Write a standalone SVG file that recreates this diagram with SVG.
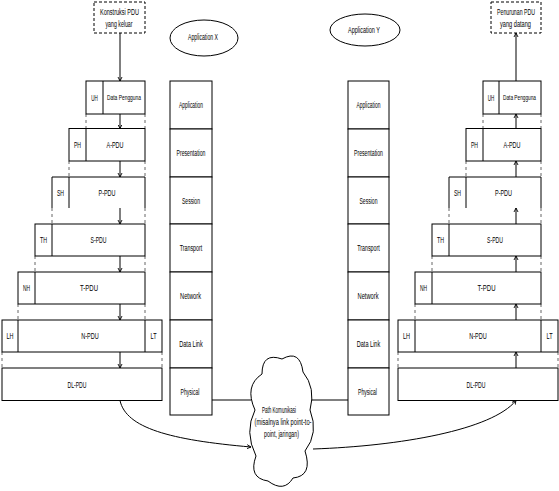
<svg xmlns="http://www.w3.org/2000/svg" width="559" height="491" viewBox="0 0 559 491">
<style>
.bg{fill:#fff}
.box{fill:#fff;stroke:#000;stroke-width:1}
.dbox{fill:#fff;stroke:#000;stroke-width:1;stroke-dasharray:3,2}
.ln{fill:none;stroke:#000;stroke-width:1}
.gap{fill:none;stroke:#666;stroke-width:1;stroke-dasharray:3,3}
.con{fill:none;stroke:#000;stroke-width:1}
.t{font-family:"Liberation Sans",Arial,sans-serif;font-size:8.5px;fill:#000;text-anchor:middle;dominant-baseline:central}
.s{font-size:8px}
</style>
<defs>
<marker id="ah" markerUnits="userSpaceOnUse" markerWidth="6" markerHeight="6" refX="4" refY="3" orient="auto">
<path d="M0,1 L4,3 L0,5" fill="none" stroke="#000" stroke-width="0.9"/>
</marker>
</defs>
<rect class="bg" x="0" y="0" width="559" height="491"/>

<g id="guides">
<path class="gap" d="M86,114V128M145,114V128M69,161V177M145,161V177M52,208V224M145,208V224M35,256V272M145,256V272M18,304V320M145,304V320M2,352V368M162,352V368"/>
<path class="gap" d="M483,114V128M541,114V128M466,161V177M541,161V177M449,208V224M541,208V224M432,256V272M541,256V272M415,304V320M541,304V320M398,352V368M558,352V368"/>
</g>

<g id="konstruksi">
<rect class="dbox" x="94" y="2" width="51" height="31"/>
<text class="t" x="119.5" y="12" textLength="39" lengthAdjust="spacingAndGlyphs">Konstruksi PDU</text>
<text class="t" x="119" y="24" textLength="27" lengthAdjust="spacingAndGlyphs">yang keluar</text>
</g>
<g id="penurunan">
<rect class="dbox" x="491" y="2" width="50" height="31"/>
<text class="t" x="516" y="12" textLength="38" lengthAdjust="spacingAndGlyphs">Penurunan PDU</text>
<text class="t" x="515.5" y="24" textLength="31" lengthAdjust="spacingAndGlyphs">yang datang</text>
</g>

<g id="appX">
<ellipse class="box" cx="204" cy="38" rx="34" ry="18"/>
<text class="t" x="203" y="37" textLength="30" lengthAdjust="spacingAndGlyphs">Application X</text>
</g>
<g id="appY">
<ellipse class="box" cx="365" cy="30" rx="35" ry="16"/>
<text class="t" x="364" y="30" textLength="32" lengthAdjust="spacingAndGlyphs">Application Y</text>
</g>

<!-- Left PDU stack -->
<g id="L-data">
<rect class="box" x="86" y="81" width="59" height="33"/>
<line class="ln" x1="103" y1="81" x2="103" y2="114"/>
<text class="t" x="94.5" y="97.5" textLength="6.5" lengthAdjust="spacingAndGlyphs">UH</text>
<text class="t s" x="124" y="97.5" textLength="34" lengthAdjust="spacingAndGlyphs">Data Pengguna</text>
</g>
<g id="L-apdu">
<rect class="box" x="69" y="128.5" width="76" height="32.5"/>
<line class="ln" x1="86" y1="128.5" x2="86" y2="161"/>
<text class="t" x="77.5" y="144.5" textLength="7" lengthAdjust="spacingAndGlyphs">PH</text>
<text class="t" x="115" y="144.5" textLength="17" lengthAdjust="spacingAndGlyphs">A-PDU</text>
</g>
<g id="L-ppdu">
<path class="ln" d="M52,208V177H145V208M69,177V208"/>
<text class="t" x="60.5" y="192.5" textLength="7" lengthAdjust="spacingAndGlyphs">SH</text>
<text class="t" x="107" y="192.5" textLength="17" lengthAdjust="spacingAndGlyphs">P-PDU</text>
</g>
<g id="L-spdu">
<rect class="box" x="35" y="224" width="110" height="32"/>
<line class="ln" x1="52" y1="224" x2="52" y2="256"/>
<text class="t" x="43.5" y="240" textLength="7" lengthAdjust="spacingAndGlyphs">TH</text>
<text class="t" x="98.5" y="240" textLength="16" lengthAdjust="spacingAndGlyphs">S-PDU</text>
</g>
<g id="L-tpdu">
<rect class="box" x="18" y="272" width="127" height="32"/>
<line class="ln" x1="35" y1="272" x2="35" y2="304"/>
<text class="t" x="26.5" y="288" textLength="7" lengthAdjust="spacingAndGlyphs">NH</text>
<text class="t" x="89" y="288" textLength="18" lengthAdjust="spacingAndGlyphs">T-PDU</text>
</g>
<g id="L-npdu">
<rect class="box" x="2" y="320" width="160" height="32"/>
<line class="ln" x1="18" y1="320" x2="18" y2="352"/>
<line class="ln" x1="145" y1="320" x2="145" y2="352"/>
<text class="t" x="10" y="336" textLength="7" lengthAdjust="spacingAndGlyphs">LH</text>
<text class="t" x="90" y="336" textLength="17.5" lengthAdjust="spacingAndGlyphs">N-PDU</text>
<text class="t" x="153.5" y="336" textLength="6" lengthAdjust="spacingAndGlyphs">LT</text>
</g>
<g id="L-dlpdu">
<rect class="box" x="2" y="368" width="160" height="32.5"/>
<text class="t" x="77" y="384.5" textLength="19" lengthAdjust="spacingAndGlyphs">DL-PDU</text>
</g>

<!-- Left layer stack -->
<g id="L-layers">
<rect class="box" x="170" y="81" width="42" height="48"/>
<rect class="box" x="170" y="129" width="42" height="48"/>
<rect class="box" x="170" y="177" width="42" height="47"/>
<rect class="box" x="170" y="224" width="42" height="48"/>
<rect class="box" x="170" y="272" width="42" height="48"/>
<rect class="box" x="170" y="320" width="42" height="48"/>
<rect class="box" x="170" y="368" width="42" height="47"/>
<text class="t" x="191" y="105" textLength="24" lengthAdjust="spacingAndGlyphs">Application</text>
<text class="t" x="191" y="153" textLength="29" lengthAdjust="spacingAndGlyphs">Presentation</text>
<text class="t" x="191" y="200.5" textLength="18" lengthAdjust="spacingAndGlyphs">Session</text>
<text class="t" x="191" y="248" textLength="22.5" lengthAdjust="spacingAndGlyphs">Transport</text>
<text class="t" x="190.5" y="296" textLength="21" lengthAdjust="spacingAndGlyphs">Network</text>
<text class="t" x="191" y="344" textLength="23.5" lengthAdjust="spacingAndGlyphs">Data Link</text>
<text class="t" x="190" y="392" textLength="19" lengthAdjust="spacingAndGlyphs">Physical</text>
</g>

<!-- Right layer stack -->
<g id="R-layers">
<rect class="box" x="348" y="81" width="41" height="48"/>
<rect class="box" x="348" y="129" width="41" height="48"/>
<rect class="box" x="348" y="177" width="41" height="47"/>
<rect class="box" x="348" y="224" width="41" height="48"/>
<rect class="box" x="348" y="272" width="41" height="48"/>
<rect class="box" x="348" y="320" width="41" height="48"/>
<rect class="box" x="348" y="368" width="41" height="47"/>
<text class="t" x="368.5" y="105" textLength="24" lengthAdjust="spacingAndGlyphs">Application</text>
<text class="t" x="368.5" y="153" textLength="29" lengthAdjust="spacingAndGlyphs">Presentation</text>
<text class="t" x="368.5" y="200.5" textLength="18" lengthAdjust="spacingAndGlyphs">Session</text>
<text class="t" x="368.5" y="248" textLength="22.5" lengthAdjust="spacingAndGlyphs">Transport</text>
<text class="t" x="368" y="296" textLength="21" lengthAdjust="spacingAndGlyphs">Network</text>
<text class="t" x="368.5" y="344" textLength="23.5" lengthAdjust="spacingAndGlyphs">Data Link</text>
<text class="t" x="367.5" y="392" textLength="19" lengthAdjust="spacingAndGlyphs">Physical</text>
</g>

<!-- Right PDU stack -->
<g id="R-data">
<rect class="box" x="483" y="81" width="58" height="33"/>
<line class="ln" x1="499" y1="81" x2="499" y2="114"/>
<text class="t" x="491" y="97.5" textLength="6.5" lengthAdjust="spacingAndGlyphs">UH</text>
<text class="t s" x="519.5" y="97.5" textLength="33" lengthAdjust="spacingAndGlyphs">Data Pengguna</text>
</g>
<g id="R-apdu">
<rect class="box" x="466" y="128.5" width="75" height="32.5"/>
<line class="ln" x1="483" y1="128.5" x2="483" y2="161"/>
<text class="t" x="474.5" y="144.5" textLength="7" lengthAdjust="spacingAndGlyphs">PH</text>
<text class="t" x="512" y="144.5" textLength="17" lengthAdjust="spacingAndGlyphs">A-PDU</text>
</g>
<g id="R-ppdu">
<path class="ln" d="M449,208V177H541V208M466,177V208"/>
<text class="t" x="457.5" y="192.5" textLength="7" lengthAdjust="spacingAndGlyphs">SH</text>
<text class="t" x="503.5" y="192.5" textLength="17" lengthAdjust="spacingAndGlyphs">P-PDU</text>
</g>
<g id="R-spdu">
<rect class="box" x="432" y="224" width="109" height="32"/>
<line class="ln" x1="449" y1="224" x2="449" y2="256"/>
<text class="t" x="440.5" y="240" textLength="7" lengthAdjust="spacingAndGlyphs">TH</text>
<text class="t" x="495" y="240" textLength="16" lengthAdjust="spacingAndGlyphs">S-PDU</text>
</g>
<g id="R-tpdu">
<rect class="box" x="415" y="272" width="126" height="32"/>
<line class="ln" x1="432" y1="272" x2="432" y2="304"/>
<text class="t" x="423.5" y="288" textLength="7" lengthAdjust="spacingAndGlyphs">NH</text>
<text class="t" x="486.5" y="288" textLength="18" lengthAdjust="spacingAndGlyphs">T-PDU</text>
</g>
<g id="R-npdu">
<rect class="box" x="398" y="320" width="160" height="32"/>
<line class="ln" x1="415" y1="320" x2="415" y2="352"/>
<line class="ln" x1="541" y1="320" x2="541" y2="352"/>
<text class="t" x="406.5" y="336" textLength="7" lengthAdjust="spacingAndGlyphs">LH</text>
<text class="t" x="478" y="336" textLength="17.5" lengthAdjust="spacingAndGlyphs">N-PDU</text>
<text class="t" x="549.5" y="336" textLength="6" lengthAdjust="spacingAndGlyphs">LT</text>
</g>
<g id="R-dlpdu">
<rect class="box" x="398" y="368" width="160" height="32.5"/>
<text class="t" x="476" y="384.5" textLength="19" lengthAdjust="spacingAndGlyphs">DL-PDU</text>
</g>

<g id="cloud">
<path class="box" d="M262,374 Q262,352 282,359 Q300,349 303,372 Q316,388 310,410 Q319,433 305,451 Q313,476 293,478 Q284,493 268,481 Q248,478 256,456 Q244,432 255,410 Q244,386 262,374 Z"/>
<text class="t" x="279" y="410" textLength="34" lengthAdjust="spacingAndGlyphs">Path Komunikasi</text>
<text class="t" x="283" y="421.5" textLength="57" lengthAdjust="spacingAndGlyphs">(misalnya link point-to-</text>
<text class="t" x="281.5" y="434" textLength="35" lengthAdjust="spacingAndGlyphs">point, jaringan)</text>
</g>

<g id="connectors">
<line class="con" x1="120" y1="33" x2="120" y2="81" marker-end="url(#ah)"/>
<line class="con" x1="120" y1="114" x2="120" y2="128.5" marker-end="url(#ah)"/>
<line class="con" x1="120" y1="161" x2="120" y2="177" marker-end="url(#ah)"/>
<line class="con" x1="120" y1="208" x2="120" y2="224" marker-end="url(#ah)"/>
<line class="con" x1="120" y1="256" x2="120" y2="272" marker-end="url(#ah)"/>
<line class="con" x1="120" y1="304" x2="120" y2="320" marker-end="url(#ah)"/>
<line class="con" x1="120" y1="352" x2="120" y2="368" marker-end="url(#ah)"/>
<line class="con" x1="516" y1="81" x2="516" y2="33" marker-end="url(#ah)"/>
<line class="con" x1="516" y1="128.5" x2="516" y2="114" marker-end="url(#ah)"/>
<line class="con" x1="516" y1="177" x2="516" y2="161" marker-end="url(#ah)"/>
<line class="con" x1="516" y1="224" x2="516" y2="208" marker-end="url(#ah)"/>
<line class="con" x1="516" y1="272" x2="516" y2="256" marker-end="url(#ah)"/>
<line class="con" x1="516" y1="320" x2="516" y2="304" marker-end="url(#ah)"/>
<line class="con" x1="516" y1="368" x2="516" y2="352" marker-end="url(#ah)"/>
<line class="con" x1="212" y1="400" x2="251" y2="400"/>
<line class="con" x1="311" y1="400" x2="348" y2="400"/>
<path class="con" d="M120,400.5 C126,428 170,440 251,447" marker-end="url(#ah)"/>
<path class="con" d="M313,449 C400,446 492,430 516,400.5" marker-end="url(#ah)"/>
</g>
</svg>
